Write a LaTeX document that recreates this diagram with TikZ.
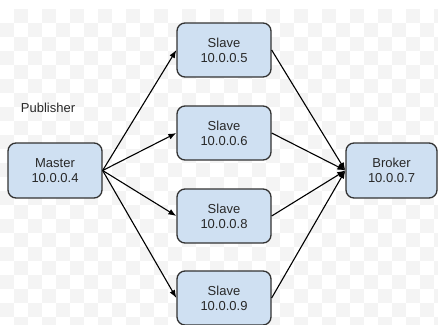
\documentclass[tikz,border=0pt]{standalone}
\usepackage{fontspec}
\setmainfont{Liberation Sans}
\usetikzlibrary{arrows.meta}
\definecolor{boxfill}{RGB}{207,224,242}
\definecolor{boxline}{RGB}{51,51,51}
\definecolor{labeltext}{RGB}{40,40,40}
\definecolor{checker}{RGB}{244,244,244}
\tikzset{
  labelfont/.style={font=\fontsize{13}{15}\selectfont, text=labeltext},
  hostbox/.style={labelfont, draw=boxline, fill=boxfill, rounded corners=8pt, line width=1.3pt,
    minimum width=94pt, minimum height=54pt, align=center, inner sep=0pt},
  link/.style={line width=1.1pt, -{Latex[length=8pt,width=6pt]}}
}
\begin{document}
\begin{tikzpicture}[x=1pt, y=-1pt]
  \useasboundingbox (0,0) rectangle (438,324);
  \clip (0,0) rectangle (438,324);
  % faint checkered backdrop
  \foreach \r in {0,...,22} {
    \foreach \c in {0,...,31} {
      \pgfmathtruncatemacro{\parity}{mod(\r+\c,2)}
      \ifnum\parity=1
        \fill[checker] (\c*14, 9+\r*14) rectangle ++(14,14);
      \fi
    }
  }
  \node[labelfont] (pub) at (48,108) {Publisher};
  \node[hostbox, minimum height=55pt] (master) at (55,170.5) {Master\\10.0.0.4};
  \node[hostbox] (s5) at (224,50) {Slave\\10.0.0.5};
  \node[hostbox] (s6) at (224,133) {Slave\\10.0.0.6};
  \node[hostbox] (s8) at (224,216) {Slave\\10.0.0.8};
  \node[hostbox] (s9) at (224,298) {Slave\\10.0.0.9};
  \node[hostbox, minimum width=91pt, minimum height=55pt] (broker) at (391.5,170.5) {Broker\\10.0.0.7};
  \foreach \s in {s5,s6,s8,s9} {
    \draw[link] (master.east) -- (\s.west);
    \draw[link] (\s.east) -- (broker.west);
  }
\end{tikzpicture}
\end{document}
